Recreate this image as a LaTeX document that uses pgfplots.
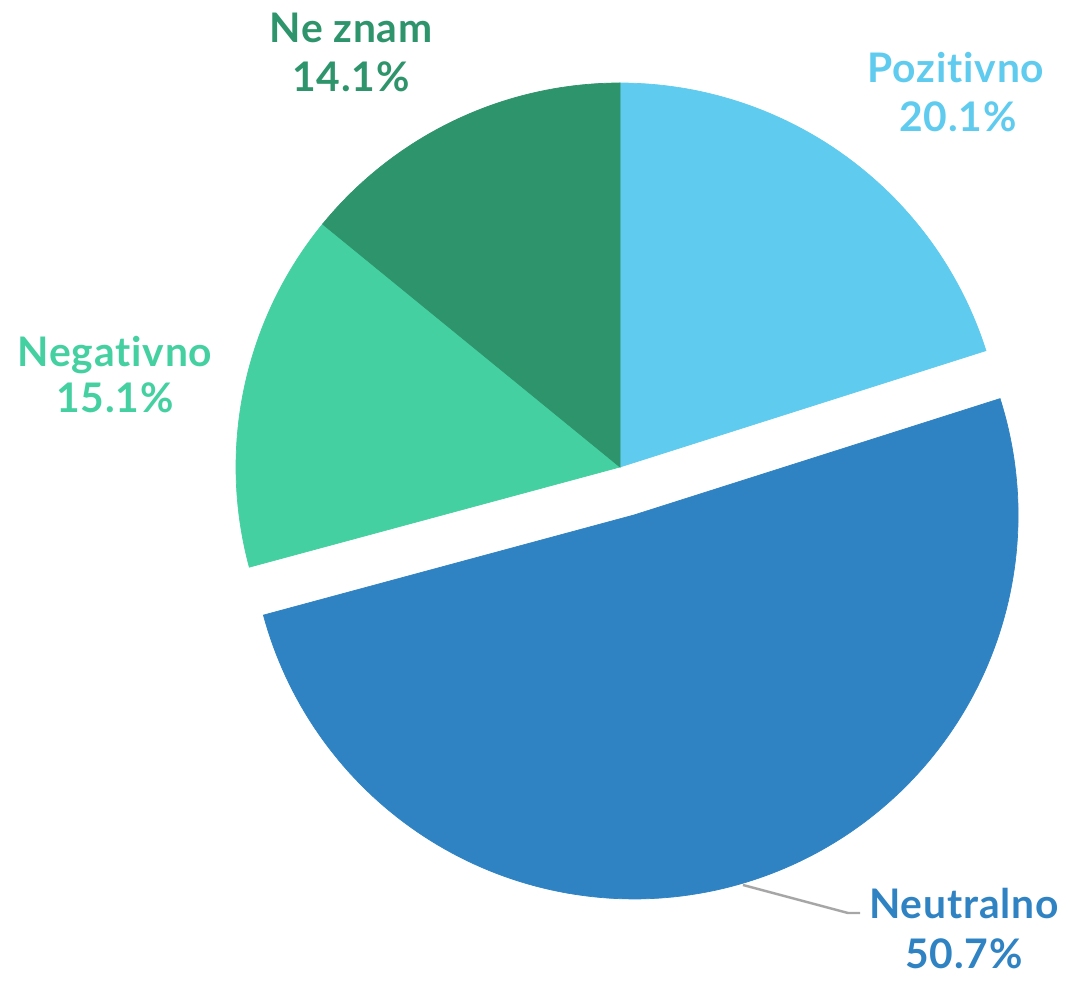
\documentclass[border=0pt]{standalone}
\usepackage{pgfplots}
\pgfplotsset{compat=1.18}
\usepackage{fontspec}
\setmainfont[Ligatures=NoCommon, LetterSpace=2]{Lato}
\definecolor{cPoz}{HTML}{5FCBEE}
\definecolor{cNeu}{HTML}{2F83C3}
\definecolor{cNeg}{HTML}{44D0A1}
\definecolor{cNez}{HTML}{2E946B}
\definecolor{cLead}{HTML}{A6A6A6}
% shares (percent), clockwise from 12 o'clock
\def\vPoz{20.1}
\def\vNeu{50.7}
\def\vNeg{15.1}
\def\vNez{14.1}
\pgfmathsetmacro\aA{90}
\pgfmathsetmacro\aB{\aA-3.6*\vPoz}
\pgfmathsetmacro\aC{\aB-3.6*\vNeu}
\pgfmathsetmacro\aD{\aC-3.6*\vNeg}
\pgfmathsetmacro\aE{\aD-3.6*\vNez}
\def\R{384}
\def\cx{620}
\def\cy{506}
\pgfmathsetmacro\mid{(\aB+\aC)/2}
\pgfmathsetmacro\ex{\cx+50*cos(\mid)}
\pgfmathsetmacro\ey{\cy+50*sin(\mid)}
\newcommand\lab{\fontsize{11.6}{14}\selectfont\bfseries}
\begin{document}
\begin{tikzpicture}
\begin{axis}[
  width=10.71cm, height=9.73cm, scale only axis,
  xmin=0, xmax=1071, ymin=0, ymax=973,
  hide axis, clip=false,
]
\addplot[fill=cPoz, draw=cPoz, line width=0.2pt, domain=\aB:\aA, samples=80, variable=\t]
  ({\cx+\R*cos(t)},{\cy+\R*sin(t)}) -- (axis cs:\cx,\cy) -- cycle;
\addplot[fill=cNeg, draw=cNeg, line width=0.2pt, domain=\aD:\aC, samples=80, variable=\t]
  ({\cx+\R*cos(t)},{\cy+\R*sin(t)}) -- (axis cs:\cx,\cy) -- cycle;
\addplot[fill=cNez, draw=cNez, line width=0.2pt, domain=\aE:\aD, samples=80, variable=\t]
  ({\cx+\R*cos(t)},{\cy+\R*sin(t)}) -- (axis cs:\cx,\cy) -- cycle;
\addplot[fill=cNeu, draw=cNeu, line width=0.2pt, domain=\aC:\aB, samples=150, variable=\t]
  ({\ex+\R*cos(t)},{\ey+\R*sin(t)}) -- (axis cs:\ex,\ey) -- cycle;
% leader line
\addplot[cLead, line width=0.7pt] coordinates {(743,88) (848,60) (860,60)};
% labels
\node[cPoz, anchor=base] at (axis cs:956,890) {\lab Pozitivno};
\node[cPoz, anchor=base] at (axis cs:958,841) {\lab 20.1\%};
\node[cNeu, anchor=base] at (axis cs:964,55) {\lab Neutralno};
\node[cNeu, anchor=base] at (axis cs:964,5) {\lab 50.7\%};
\node[cNeg, anchor=base] at (axis cs:115,606) {\lab Negativno};
\node[cNeg, anchor=base] at (axis cs:115,560) {\lab 15.1\%};
\node[cNez, anchor=base] at (axis cs:351,930) {\lab Ne znam};
\node[cNez, anchor=base] at (axis cs:351,881) {\lab 14.1\%};
\path (rel axis cs:0,0) rectangle (rel axis cs:1,1);
\end{axis}
\end{tikzpicture}
\end{document}
